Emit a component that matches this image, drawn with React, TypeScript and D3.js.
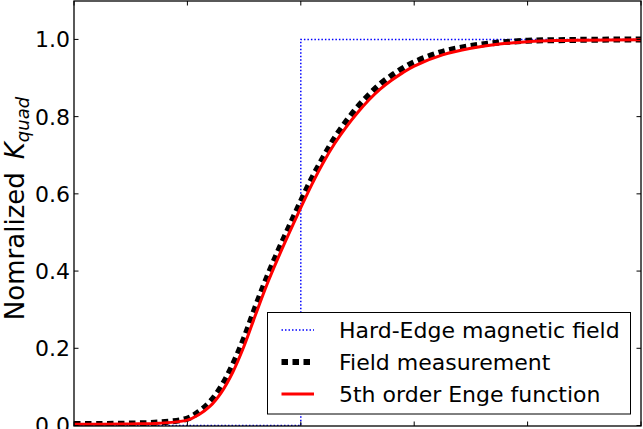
import React from "react";
import * as d3 from "d3";

const xs = [0, 0.25, 0.5, 0.75, 1.0, 1.1, 1.2, 1.3, 1.4, 1.5, 1.6, 1.7, 1.8, 1.9, 2.0, 2.1, 2.2, 2.3, 2.4, 2.5, 2.6, 2.7, 2.8, 2.9, 3.0, 3.25, 3.5, 3.75, 4.0, 4.25, 4.5, 5.0];
const engeValues = [0.003, 0.003, 0.004, 0.006, 0.014, 0.028, 0.05, 0.086, 0.138, 0.206, 0.286, 0.364, 0.434, 0.5, 0.564, 0.626, 0.682, 0.731, 0.773, 0.81, 0.843, 0.871, 0.894, 0.914, 0.931, 0.96, 0.977, 0.988, 0.994, 0.997, 0.998, 0.999];
const measuredValues = [0.004, 0.004, 0.005, 0.008, 0.018, 0.035, 0.061, 0.101, 0.157, 0.226, 0.306, 0.382, 0.451, 0.516, 0.58, 0.641, 0.695, 0.745, 0.787, 0.824, 0.856, 0.884, 0.906, 0.925, 0.941, 0.968, 0.983, 0.992, 0.9965, 0.998, 0.999, 1.0];
const hardEdgeX = [0, 2, 2, 5];
const hardEdgeY = [0, 0, 1, 1];
const yTicks = [0.0, 0.2, 0.4, 0.6, 0.8, 1.0];
const xTicks = [0, 1, 2, 3, 4, 5];
const legendLabels = ["Hard-Edge magnetic field", "Field measurement", "5th order Enge function"];

const W = 643, H = 429;
const L = 74, R = 641, T = 1, B = 426;
const FONT = "DejaVu Sans, sans-serif";

export default function App() {
  const x = d3.scaleLinear().domain([0, 5]).range([L, R]);
  const y = d3.scaleLinear().domain([0, 1.1]).range([B - 0.5, T - 0.2]);
  const line = d3.line<[number, number]>().x(d => x(d[0])).y(d => y(d[1])).curve(d3.curveCatmullRom.alpha(0.5));
  const lin = d3.line<[number, number]>().x(d => x(d[0])).y(d => y(d[1]));
  const enge = xs.map((v, i) => [v, engeValues[i]] as [number, number]);
  const meas = xs.map((v, i) => [v, measuredValues[i]] as [number, number]);
  const hard = hardEdgeX.map((v, i) => [v, hardEdgeY[i]] as [number, number]);

  const lgX = 267.5, lgY = 312.5, lgW = 363, lgH = 101.5;
  const rows = [330, 362, 394];

  return (
    <svg width={W} height={H} style={{ position: "absolute", left: 0, top: 0, background: "#fff" }} fontFamily={FONT}>
      <defs>
        <clipPath id="plot"><rect x={L} y={T} width={R - L} height={B - T} /></clipPath>
      </defs>
      <rect width={W} height={H} fill="#fff" />
      <g clipPath="url(#plot)">
        <path d={lin(hard) || ""} fill="none" stroke="#0000ff" strokeWidth={1.5} strokeDasharray="1.5,2" />
        <path d={line(meas) || ""} fill="none" stroke="#000" strokeWidth={6} strokeDasharray="6.5,4.5" />
        <path d={line(enge) || ""} fill="none" stroke="#ff0000" strokeWidth={3} />
      </g>
      {yTicks.map(t => (
        <g key={"y" + t}>
          <line x1={L} x2={L + 4.5} y1={y(t)} y2={y(t)} stroke="#000" strokeWidth={1} />
          <line x1={R} x2={R - 4.5} y1={y(t)} y2={y(t)} stroke="#000" strokeWidth={1} />
          <text x={L - 4} y={y(t)} dy="0.36em" textAnchor="end" fontSize={22} fill="#000">{t.toFixed(1)}</text>
        </g>
      ))}
      {xTicks.map(t => (
        <g key={"x" + t}>
          <line x1={x(t)} x2={x(t)} y1={B} y2={B - 4.5} stroke="#000" strokeWidth={1} />
          <line x1={x(t)} x2={x(t)} y1={T} y2={T + 4.5} stroke="#000" strokeWidth={1} />
        </g>
      ))}
      <rect x={L} y={T} width={R - L} height={B - T} fill="none" stroke="#000" strokeWidth={1.3} />
      <text transform={`translate(24,${(T + B) / 2 - 5}) rotate(-90)`} textAnchor="middle" fontSize={26} fill="#000">
        Nomralized{"\u2002"}
        <tspan fontStyle="italic">K</tspan>
        <tspan fontStyle="italic" fontSize={18} dy={5}>quad</tspan>
      </text>
      <rect x={lgX} y={lgY} width={lgW} height={lgH} fill="#fff" stroke="#000" strokeWidth={1} />
      <line x1={281.5} x2={314} y1={rows[0]} y2={rows[0]} stroke="#0000ff" strokeWidth={1.5} strokeDasharray="1.5,2" />
      <line x1={281.5} x2={314} y1={rows[1]} y2={rows[1]} stroke="#000" strokeWidth={6} strokeDasharray="6.5,4.5" />
      <line x1={281.5} x2={314} y1={rows[2]} y2={rows[2]} stroke="#ff0000" strokeWidth={3} />
      {legendLabels.map((s, i) => (
        <text key={s} x={339} y={rows[i]} dy="0.36em" fontSize={22} fill="#000">{s}</text>
      ))}
    </svg>
  );
}
